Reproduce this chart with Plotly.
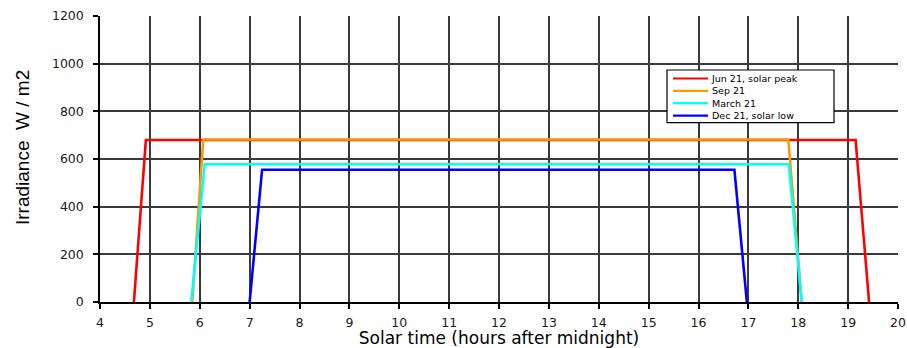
import plotly.graph_objects as go

# Irradiance profiles: solar time (h) vs irradiance (W/m2)
series_names = ["Jun 21, solar peak", "Sep 21", "March 21", "Dec 21, solar low"]
series_colors = ["#ff0000", "#ff9900", "#00ffff", "#0000ff"]

jun_time = [4.68, 4.92, 19.15, 19.42]
jun_irr = [0, 680, 680, 0]

sep_time = [5.85, 6.07, 17.80, 18.07]
sep_irr = [0, 682, 682, 0]

mar_time = [5.83, 6.10, 17.81, 18.07]
mar_irr = [0, 578, 578, 0]

dec_time = [7.00, 7.25, 16.72, 16.97]
dec_irr = [0, 555, 555, 0]

x_ticks = list(range(4, 21))
y_ticks = list(range(0, 1201, 200))

W, H = 907, 348
M_L, M_R, M_T, M_B = 100, 9, 16, 46
PLOT_W = W - M_L - M_R
PLOT_H = H - M_T - M_B


def px_to_paper(px, py):
    """Convert a pixel position on the page to paper coordinates."""
    return (px - M_L) / PLOT_W, 1 - (py - M_T) / PLOT_H


fig = go.Figure()
for name, color, t, v in zip(series_names, series_colors,
                             [jun_time, sep_time, mar_time, dec_time],
                             [jun_irr, sep_irr, mar_irr, dec_irr]):
    fig.add_trace(go.Scatter(x=t, y=v, mode="lines", name=name, showlegend=False,
                             line=dict(color=color, width=2.6)))

tick_font = dict(family="DejaVu Sans, Verdana, sans-serif", size=12.5, color="#1a1a1a")

# Compact boxed legend in the upper right of the plot area
LEG_FONT = 9.5
LEG_LINE = LEG_FONT * 1.3          # line spacing of a multi-line annotation
LEG_FIRST = 78.5                   # pixel row of the first entry
box_l, box_t = px_to_paper(667, 70)
box_r, box_b = px_to_paper(834, LEG_FIRST + 3 * LEG_LINE + 7)
shapes = [dict(type="rect", xref="paper", yref="paper",
               x0=box_l, x1=box_r, y0=box_b, y1=box_t,
               line=dict(color="#000000", width=1.2), fillcolor="white", layer="above")]
for i, color in enumerate(series_colors):
    ry = LEG_FIRST + i * LEG_LINE
    lx0, ly = px_to_paper(673, ry)
    lx1, _ = px_to_paper(708, ry)
    shapes.append(dict(type="line", xref="paper", yref="paper",
                       x0=lx0, x1=lx1, y0=ly, y1=ly,
                       line=dict(color=color, width=2.2), layer="above"))
tx, ty = px_to_paper(710, LEG_FIRST + 1.5 * LEG_LINE)
annotations = [dict(xref="paper", yref="paper", x=tx, y=ty,
                    xanchor="left", yanchor="middle", align="left",
                    showarrow=False, borderpad=0,
                    text="<br>".join(series_names),
                    font=dict(family="DejaVu Sans, Verdana, sans-serif",
                              size=LEG_FONT, color="#000000"))]

# Vertical axis title, placed at a fixed spot left of the tick labels
yt_x, yt_y = px_to_paper(22, 148)
annotations.append(dict(xref="paper", yref="paper", x=yt_x, y=yt_y,
                        xanchor="center", yanchor="middle", textangle=-90,
                        showarrow=False, borderpad=0,
                        text="Irradiance  W / m2",
                        font=dict(family="Liberation Sans Narrow, Arial Narrow, Liberation Sans, sans-serif",
                                  size=19, color="#000000")))

fig.update_layout(
    width=W, height=H,
    margin=dict(l=M_L, r=M_R, t=M_T, b=M_B, autoexpand=False),
    paper_bgcolor="white", plot_bgcolor="white",
    font=tick_font,
    shapes=shapes,
    annotations=annotations,
    xaxis=dict(range=[4, 20], tickvals=x_ticks, ticktext=[str(v) for v in x_ticks],
               automargin=False,
               showgrid=True, gridcolor="#3a3a3a", gridwidth=1.5,
               showline=True, linecolor="#000000", linewidth=1.5,
               ticks="outside", ticklen=5, tickcolor="#000000", tickwidth=1.5,
               ticklabeloverflow="allow", ticklabelstandoff=3,
               zeroline=False, tickfont=tick_font,
               title=dict(text="Solar time (hours after midnight)",
                          font=dict(family="DejaVu Sans, Verdana, sans-serif",
                                    size=17, color="#000000"),
                          standoff=6)),
    yaxis=dict(range=[0, 1200], tickvals=y_ticks,
               automargin=False,
               showgrid=True, gridcolor="#3a3a3a", gridwidth=1.5,
               showline=True, linecolor="#000000", linewidth=1.5,
               ticks="outside", ticklen=5, tickcolor="#000000", tickwidth=1.5,
               ticklabelstandoff=7,
               zeroline=False, tickfont=tick_font),
)

fig.write_html("out.html")
